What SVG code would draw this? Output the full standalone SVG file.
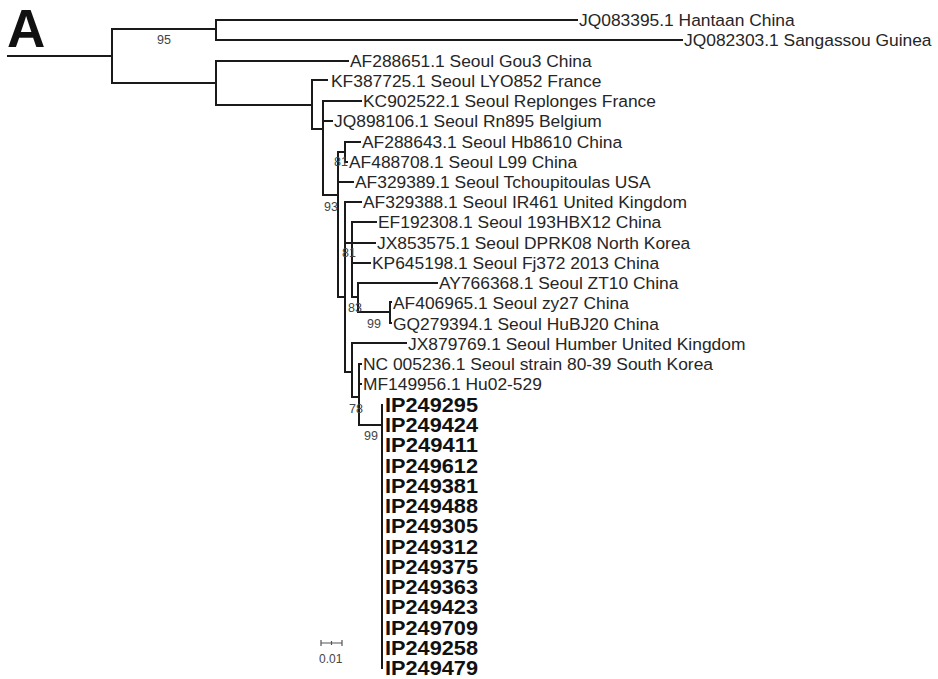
<svg xmlns="http://www.w3.org/2000/svg" width="938" height="679" viewBox="0 0 938 679">
<style>
.br{fill:none;stroke:#1a1a1a;stroke-width:2;stroke-linecap:square}
.lb{font-family:"Liberation Sans",Arial,sans-serif;font-size:17.4px;fill:#262626}
.ip{font-family:"Liberation Sans",Arial,sans-serif;font-size:21px;font-weight:bold;fill:#111}
.bs{font-family:"Liberation Sans",Arial,sans-serif;font-size:12.5px;fill:#444}
.pn{font-family:"Liberation Sans",Arial,sans-serif;font-size:53px;font-weight:bold;fill:#111}
</style>
<rect width="938" height="679" fill="#fff"/>
<text class="pn" x="7" y="47">A</text>
<g id="connectors">
<path class="br" d="M8,56H112 M112,29V83 M112,29H216 M112,83H216"/>
<path class="br" d="M216,20V40 M216,20H577 M216,40H682"/>
<path class="br" d="M216,61V105 M216,61H348 M216,105H312"/>
<path class="br" d="M312,80V129 M312,80H327 M312,129H323"/>
<path class="br" d="M323,101V195 M323,101H361 M323,121H332 M323,195H338"/>
<path class="br" d="M338,152V297 M338,152H345 M338,182H353 M338,297H345"/>
<path class="br" d="M345,142V162 M345,142H360 M345,162H347"/>
<path class="br" d="M345,202V372 M345,202H361 M345,243H375 M345,372H352"/>
<path class="br" d="M352,222V297 M352,222H376 M352,263H370 M352,297H358"/>
<path class="br" d="M358,283V312 M358,283H437 M358,312H390"/>
<path class="br" d="M390,302V323 M390,302H391 M390,323H391"/>
<path class="br" d="M352,343V397 M352,343H406 M352,397H359"/>
<path class="br" d="M359,364V425 M359,364H361 M359,384H361 M359,425H382"/>
<path class="br" d="M382,405V668"/>
</g>
<g id="support">
<text class="bs" x="157" y="44">95</text>
<text class="bs" x="334" y="166">81</text>
<text class="bs" x="324" y="211">93</text>
<text class="bs" x="342" y="257">81</text>
<text class="bs" x="348" y="312">83</text>
<text class="bs" x="367" y="328">99</text>
<text class="bs" x="349" y="413">78</text>
<text class="bs" x="364" y="440">99</text>
</g>
<g id="leaf-JQ083395"><text class="lb" x="579" y="26">JQ083395.1 Hantaan China</text></g>
<g id="leaf-JQ082303"><text class="lb" x="684" y="46">JQ082303.1 Sangassou Guinea</text></g>
<g id="leaf-AF288651"><text class="lb" x="350" y="67">AF288651.1 Seoul Gou3 China</text></g>
<g id="leaf-KF387725"><text class="lb" x="331" y="87">KF387725.1 Seoul LYO852 France</text></g>
<g id="leaf-KC902522"><text class="lb" x="363" y="107">KC902522.1 Seoul Replonges France</text></g>
<g id="leaf-JQ898106"><text class="lb" x="334" y="127">JQ898106.1 Seoul Rn895 Belgium</text></g>
<g id="leaf-AF288643"><text class="lb" x="362" y="148">AF288643.1 Seoul Hb8610 China</text></g>
<g id="leaf-AF488708"><text class="lb" x="349" y="168">AF488708.1 Seoul L99 China</text></g>
<g id="leaf-AF329389"><text class="lb" x="355" y="188">AF329389.1 Seoul Tchoupitoulas USA</text></g>
<g id="leaf-AF329388"><text class="lb" x="363" y="208">AF329388.1 Seoul IR461 United Kingdom</text></g>
<g id="leaf-EF192308"><text class="lb" x="378" y="228">EF192308.1 Seoul 193HBX12 China</text></g>
<g id="leaf-JX853575"><text class="lb" x="377" y="249">JX853575.1 Seoul DPRK08 North Korea</text></g>
<g id="leaf-KP645198"><text class="lb" x="372" y="269">KP645198.1 Seoul Fj372 2013 China</text></g>
<g id="leaf-AY766368"><text class="lb" x="439" y="289">AY766368.1 Seoul ZT10 China</text></g>
<g id="leaf-AF406965"><text class="lb" x="393" y="309">AF406965.1 Seoul zy27 China</text></g>
<g id="leaf-GQ279394"><text class="lb" x="393" y="330">GQ279394.1 Seoul HuBJ20 China</text></g>
<g id="leaf-JX879769"><text class="lb" x="408" y="350">JX879769.1 Seoul Humber United Kingdom</text></g>
<g id="leaf-NC005236"><text class="lb" x="363" y="370">NC 005236.1 Seoul strain 80-39 South Korea</text></g>
<g id="leaf-MF149956"><text class="lb" x="363" y="390">MF149956.1 Hu02-529</text></g>
<g id="leaf-IP249295"><text class="ip" x="385" y="412" textLength="93" lengthAdjust="spacingAndGlyphs">IP249295</text></g>
<g id="leaf-IP249424"><text class="ip" x="385" y="432" textLength="93" lengthAdjust="spacingAndGlyphs">IP249424</text></g>
<g id="leaf-IP249411"><text class="ip" x="385" y="452" textLength="93" lengthAdjust="spacingAndGlyphs">IP249411</text></g>
<g id="leaf-IP249612"><text class="ip" x="385" y="473" textLength="93" lengthAdjust="spacingAndGlyphs">IP249612</text></g>
<g id="leaf-IP249381"><text class="ip" x="385" y="493" textLength="93" lengthAdjust="spacingAndGlyphs">IP249381</text></g>
<g id="leaf-IP249488"><text class="ip" x="385" y="513" textLength="93" lengthAdjust="spacingAndGlyphs">IP249488</text></g>
<g id="leaf-IP249305"><text class="ip" x="385" y="533" textLength="93" lengthAdjust="spacingAndGlyphs">IP249305</text></g>
<g id="leaf-IP249312"><text class="ip" x="385" y="554" textLength="93" lengthAdjust="spacingAndGlyphs">IP249312</text></g>
<g id="leaf-IP249375"><text class="ip" x="385" y="574" textLength="93" lengthAdjust="spacingAndGlyphs">IP249375</text></g>
<g id="leaf-IP249363"><text class="ip" x="385" y="594" textLength="93" lengthAdjust="spacingAndGlyphs">IP249363</text></g>
<g id="leaf-IP249423"><text class="ip" x="385" y="614" textLength="93" lengthAdjust="spacingAndGlyphs">IP249423</text></g>
<g id="leaf-IP249709"><text class="ip" x="385" y="635" textLength="93" lengthAdjust="spacingAndGlyphs">IP249709</text></g>
<g id="leaf-IP249258"><text class="ip" x="385" y="655" textLength="93" lengthAdjust="spacingAndGlyphs">IP249258</text></g>
<g id="leaf-IP249479"><text class="ip" x="385" y="675" textLength="93" lengthAdjust="spacingAndGlyphs">IP249479</text></g>
<g id="scale-bar">
<path d="M321,643H342 M321,640V646 M342,640V646 M331.5,641V645" fill="none" stroke="#555" stroke-width="1.2"/>
<text class="bs" x="319" y="663" fill="#555" style="font-size:12px">0.01</text>
</g>
</svg>
